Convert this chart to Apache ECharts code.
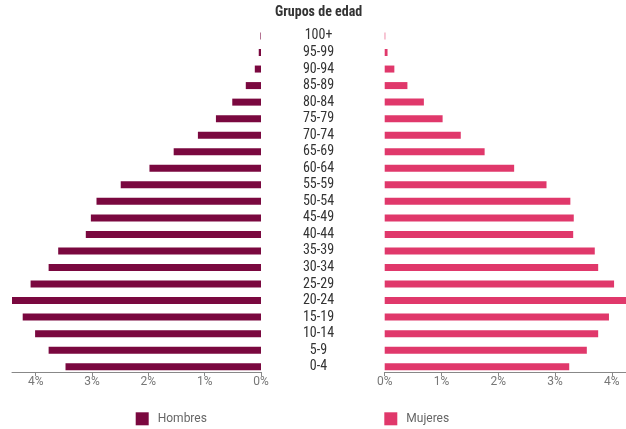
<!DOCTYPE html>
<html>
<head>
<meta charset="utf-8">
<script src="https://cdn.jsdelivr.net/npm/echarts@6/dist/echarts.min.js"></script>
<style>
  html, body { margin: 0; padding: 0; background: #ffffff; }
  #chart { width: 626px; height: 429px; }
</style>
</head>
<body>
<div id="chart"></div>
<script>
// Age groups, bottom to top
var categories = ['0-4','5-9','10-14','15-19','20-24','25-29','30-34','35-39','40-44','45-49','50-54','55-59','60-64','65-69','70-74','75-79','80-84','85-89','90-94','95-99','100+'];
// Percentage of population
var hombres = [3.47, 3.77, 4.01, 4.23, 4.42, 4.09, 3.77, 3.60, 3.11, 3.02, 2.92, 2.49, 1.98, 1.55, 1.12, 0.80, 0.51, 0.27, 0.11, 0.04, 0.01];
var mujeres = [3.25, 3.56, 3.76, 3.95, 4.25, 4.04, 3.76, 3.70, 3.32, 3.33, 3.27, 2.85, 2.28, 1.76, 1.34, 1.02, 0.69, 0.40, 0.17, 0.05, 0.01];
var titleText = 'Grupos de edad';
var seriesNames = ['Hombres', 'Mujeres'];

var narrow = "'Liberation Sans Narrow', 'Roboto Condensed', Roboto, sans-serif";
var axisCommon = {
  type: 'value',
  min: 0,
  max: 'dataMax',
  interval: 1,
  offset: -3,
  splitLine: { show: false },
  axisLine: { show: true, lineStyle: { color: '#888', width: 1 } },
  axisTick: { show: true, length: 4, lineStyle: { color: '#888' } },
  axisLabel: {
    formatter: '{value}%',
    color: '#777',
    fontFamily: 'Roboto, sans-serif',
    fontSize: 12,
    margin: 4,
    showMaxLabel: false
  }
};

var chart = echarts.init(document.getElementById('chart'), null, { renderer: 'canvas' });
chart.setOption({
  animation: false,
  backgroundColor: '#ffffff',
  title: {
    text: titleText,
    left: 275,
    top: 0,
    padding: [5, 0, 5, 0],
    textStyle: { fontFamily: narrow, fontWeight: 'bold', fontSize: 14, color: '#333' }
  },
  legend: [
    {
      data: [seriesNames[0]], left: 135.7, top: 412.3, padding: 0,
      icon: 'rect', itemWidth: 13, itemHeight: 13,
      textStyle: { fontFamily: 'Roboto, sans-serif', fontSize: 12, color: '#666', padding: [0, 0, 0, 4] }
    },
    {
      data: [seriesNames[1]], left: 384.3, top: 412.3, padding: 0,
      icon: 'rect', itemWidth: 13, itemHeight: 13,
      textStyle: { fontFamily: 'Roboto, sans-serif', fontSize: 12, color: '#666', padding: [0, 0, 0, 4] }
    }
  ],
  grid: [
    { left: 12, width: 249, top: 27.7, height: 347.3, containLabel: false },
    { left: 384.7, width: 241.3, top: 27.7, height: 347.3, containLabel: false }
  ],
  xAxis: [
    Object.assign({}, axisCommon, { gridIndex: 0, inverse: true }),
    Object.assign({}, axisCommon, { gridIndex: 1 })
  ],
  yAxis: [
    {
      type: 'category', gridIndex: 0, data: categories, position: 'right',
      axisLine: { show: false }, axisTick: { show: false },
      axisLabel: { align: 'center', margin: 57.5, color: '#333', fontFamily: narrow, fontSize: 14, interval: 0 }
    },
    {
      type: 'category', gridIndex: 1, data: categories,
      axisLine: { show: false }, axisTick: { show: false }, axisLabel: { show: false }
    }
  ],
  series: [
    {
      name: seriesNames[0], type: 'bar', xAxisIndex: 0, yAxisIndex: 0,
      data: hombres, barWidth: 7, itemStyle: { color: '#7a083f' }
    },
    {
      name: seriesNames[1], type: 'bar', xAxisIndex: 1, yAxisIndex: 1,
      data: mujeres, barWidth: 7, itemStyle: { color: '#e0386b' }
    }
  ]
});
</script>
</body>
</html>
